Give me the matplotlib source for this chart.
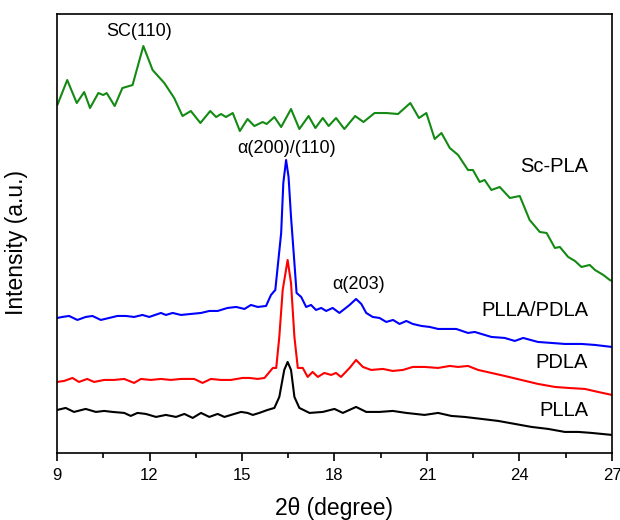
import numpy as np
import matplotlib
matplotlib.use("Agg")
import matplotlib.pyplot as plt

plt.rcParams['font.family'] = ['Liberation Sans', 'DejaVu Sans']

# 2theta (degree) / intensity (a.u.), curves already offset
sc_x = [9.01, 9.33, 9.64, 9.88, 10.07, 10.34, 10.50, 10.61, 10.87, 11.12, 11.34, 11.45,
        11.80, 12.10, 12.48, 12.80, 13.07, 13.34, 13.65, 13.97, 14.16, 14.32, 14.48, 14.70,
        14.93, 15.18, 15.40, 15.67, 15.80, 16.05, 16.27, 16.59, 16.86, 17.16, 17.38, 17.62,
        17.81, 18.05, 18.32, 18.67, 18.94, 19.30, 19.68, 20.06, 20.46, 20.74, 20.98, 21.25,
        21.47, 21.74, 22.01, 22.33, 22.49, 22.71, 22.87, 23.09, 23.36, 23.69, 24.01, 24.33,
        24.66, 24.88, 25.15, 25.31, 25.58, 25.80, 26.01, 26.28, 26.45, 26.72, 26.93, 27.0]
sc_y = [348, 373, 350, 361, 345, 360, 358, 360, 347, 365, 367, 368,
        407, 383, 370, 355, 337, 342, 330, 342, 336, 339, 336, 340,
        322, 334, 327, 331, 329, 336, 326, 344, 324, 337, 325, 335,
        327, 335, 324, 337, 331, 340, 340, 339, 350, 335, 340, 314,
        320, 305, 298, 283, 283, 271, 273, 263, 266, 255, 257, 233,
        221, 220, 205, 206, 196, 192, 186, 188, 183, 178, 173, 172]

blend_x = [9.01, 9.17, 9.39, 9.66, 9.93, 10.15, 10.42, 10.69, 10.96, 11.23, 11.50, 11.77,
           11.99, 12.37, 12.53, 12.75, 13.02, 13.34, 13.67, 13.94, 14.21, 14.53, 14.81, 15.08,
           15.29, 15.51, 15.78, 15.94, 16.08, 16.27, 16.34, 16.43, 16.51, 16.59, 16.70, 16.77,
           16.92, 17.08, 17.24, 17.40, 17.57, 17.73, 17.94, 18.16, 18.49, 18.70, 18.87, 19.03,
           19.24, 19.46, 19.68, 19.90, 20.11, 20.33, 20.54, 20.82, 21.09, 21.36, 21.95, 22.33,
           22.55, 23.09, 23.52, 23.85, 24.12, 24.60, 25.04, 25.47, 26.01, 26.45, 27.0]
blend_y = [135, 136, 137, 133, 136, 137, 133, 135, 137, 137, 136, 138,
           136, 140, 138, 140, 138, 139, 140, 142, 142, 145, 146, 144,
           148, 146, 147, 158, 163, 220, 270, 293, 276, 236, 190, 160,
           156, 146, 148, 143, 145, 142, 145, 140, 148, 154, 149, 140,
           136, 135, 131, 133, 129, 132, 129, 127, 126, 124, 124, 120,
           121, 116, 115, 112, 115, 111, 110, 109, 109, 108, 106]

pdla_x = [9.01, 9.23, 9.50, 9.71, 9.98, 10.20, 10.53, 10.85, 11.18, 11.50, 11.72, 12.04,
          12.37, 12.69, 13.02, 13.45, 13.72, 13.99, 14.32, 14.64, 15.02, 15.24, 15.51, 15.73,
          16.00, 16.11, 16.21, 16.32, 16.48, 16.59, 16.70, 16.81, 16.97, 17.13, 17.29, 17.46,
          17.67, 17.89, 18.05, 18.21, 18.49, 18.70, 18.92, 19.19, 19.57, 19.89, 20.22, 20.54,
          20.92, 21.36, 21.74, 22.01, 22.33, 22.66, 23.09, 23.52, 24.06, 24.60, 25.15, 25.58,
          26.12, 26.55, 27.0]
pdla_y = [71, 72, 75, 71, 74, 71, 73, 73, 74, 70, 74, 73,
          74, 73, 74, 74, 70, 74, 73, 73, 75, 75, 74, 75,
          85, 85, 116, 163, 193, 170, 116, 85, 85, 76, 81, 76,
          80, 78, 80, 76, 85, 93, 86, 83, 84, 82, 83, 86,
          86, 85, 87, 86, 87, 83, 80, 77, 73, 69, 66, 65,
          64, 61, 58]

plla_x = [9.01, 9.28, 9.55, 9.93, 10.26, 10.53, 10.80, 11.18, 11.39, 11.61, 11.88, 12.21,
          12.53, 12.86, 13.13, 13.40, 13.67, 13.94, 14.21, 14.43, 14.75, 14.97, 15.18, 15.35,
          15.56, 15.83, 16.05, 16.21, 16.37, 16.48, 16.59, 16.70, 16.86, 17.19, 17.62, 18.00,
          18.27, 18.70, 19.03, 19.46, 19.89, 20.33, 20.92, 21.36, 21.79, 22.22, 22.77, 23.31,
          23.85, 24.39, 24.93, 25.47, 25.91, 26.34, 27.0]
plla_y = [43, 45, 41, 44, 41, 42, 41, 40, 37, 40, 39, 36,
          38, 36, 39, 35, 40, 36, 39, 36, 39, 41, 40, 38,
          40, 43, 45, 56, 83, 91, 83, 56, 45, 40, 41, 44,
          40, 46, 41, 41, 42, 40, 38, 40, 37, 36, 34, 32,
          29, 26, 24, 21, 21, 20, 18]

fig = plt.figure(figsize=(6.2, 5.2), dpi=100)
ax = fig.add_axes([0.092, 0.129, 0.895, 0.844])

line_kw = dict(lw=1.5, solid_joinstyle='round', solid_capstyle='round')
ax.plot(plla_x, plla_y, color='black', **line_kw)
ax.plot(pdla_x, pdla_y, color='#ff0000', **line_kw)
ax.plot(blend_x, blend_y, color='#0000ff', **line_kw)
ax.plot(sc_x, sc_y, color='#138a13', **line_kw)

# peak and sample labels
ax.text(11.65, 422, 'SC(110)', ha='center', va='center', fontsize=13)
ax.text(16.44, 305, 'α(200)/(110)', ha='center', va='center', fontsize=13)
ax.text(18.78, 168, 'α(203)', ha='center', va='center', fontsize=13)
ax.text(26.22, 286, 'Sc-PLA', ha='right', va='center', fontsize=14.5)
ax.text(26.22, 142, 'PLLA/PDLA', ha='right', va='center', fontsize=14.5)
ax.text(26.22, 90, 'PDLA', ha='right', va='center', fontsize=14.5)
ax.text(26.22, 42, 'PLLA', ha='right', va='center', fontsize=14.5)

ax.set_xlim(9, 27)
ax.set_ylim(0, 439)
ax.set_xticks(np.arange(9, 28, 3))
ax.set_xticks(np.arange(10.5, 27, 3), minor=True)
ax.set_yticks([])
ax.tick_params(axis='x', which='major', direction='out', length=6, width=1.2,
               labelsize=12, pad=5)
ax.tick_params(axis='x', which='minor', direction='out', length=3.5, width=1.2)
for s in ax.spines.values():
    s.set_linewidth(1.2)

ax.set_xlabel('2θ (degree)', fontsize=16.5, labelpad=10)
ax.set_ylabel('Intensity (a.u.)', fontsize=16.5)
ax.yaxis.set_label_coords(-0.052, 0.48)

fig.savefig('out.png', dpi=100)
